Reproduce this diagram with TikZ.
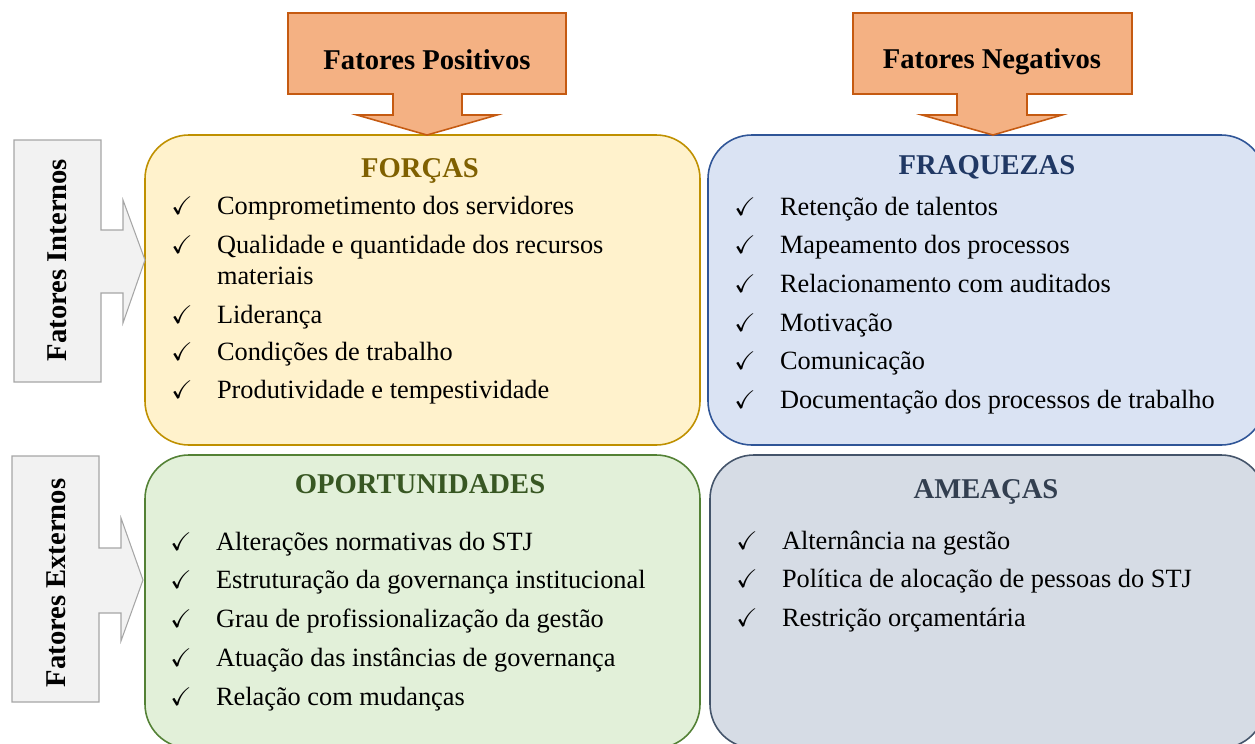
\documentclass[tikz,border=0pt]{standalone}
\usepackage{fontspec}
\setmainfont{Liberation Serif}
\usepackage{amssymb}
\usetikzlibrary{positioning, fit}

\definecolor{laranja}{HTML}{F4B183}
\definecolor{laranjaB}{HTML}{C55A11}
\definecolor{cinza}{HTML}{F2F2F2}
\definecolor{cinzaB}{HTML}{A6A6A6}
\definecolor{amarelo}{HTML}{FFF2CC}
\definecolor{amareloB}{HTML}{BF9000}
\definecolor{amareloT}{HTML}{7F6000}
\definecolor{azul}{HTML}{DAE3F3}
\definecolor{azulB}{HTML}{2F5597}
\definecolor{azulT}{HTML}{203864}
\definecolor{verde}{HTML}{E2F0D9}
\definecolor{verdeB}{HTML}{538135}
\definecolor{verdeT}{HTML}{385723}
\definecolor{ardosia}{HTML}{D6DCE5}
\definecolor{ardosiaB}{HTML}{44546A}
\definecolor{ardosiaT}{HTML}{333F50}

\newcommand{\ok}{\makebox[26pt][l]{\fontsize{14.5}{14.5}\selectfont$\checkmark$}}

\begin{document}
\begin{tikzpicture}[x=0.02cm, y=-0.02cm,
    quadro/.style={line width=0.9pt, rounded corners=25pt, inner sep=0pt},
    titulo/.style={font=\fontsize{16.3}{19}\selectfont\bfseries, inner sep=0pt, anchor=base},
    item/.style={font=\fontsize{15}{18.1}\selectfont, inner sep=0pt, anchor=base west},
    seta/.style={draw=laranjaB, fill=laranja, line width=0.9pt},
    setacinza/.style={draw=cinzaB, fill=cinza, line width=0.6pt}]
    \clip (0,0) rectangle (1255,744);

    % quadrantes
    \node (forcas) [quadro, draw=amareloB, fill=amarelo, fit={(145,135) (700,445)}] {};
    \node (fraquezas) [quadro, draw=azulB, fill=azul, fit={(708,135) (1265,445)}] {};
    \node (oport) [quadro, draw=verdeB, fill=verde, fit={(145,455) (700,748)}] {};
    \node (ameacas) [quadro, draw=ardosiaB, fill=ardosia, fit={(710,455) (1265,748)}] {};

    % setas de cima
    \draw[seta] (288,13) -- (566,13) -- (566,94) -- (462,94) -- (462,115) -- (497,115)
        -- (427,135) -- (357,115) -- (393,115) -- (393,94) -- (288,94) -- cycle;
    \draw[seta] (853,13) -- (1132,13) -- (1132,94) -- (1027,94) -- (1027,115) -- (1062,115)
        -- (993,135) -- (922,115) -- (957,115) -- (957,94) -- (853,94) -- cycle;
    \node (positivos) [titulo] at (427,69) {Fatores Positivos};
    \node (negativos) [titulo] at (992,68) {Fatores Negativos};

    % setas da esquerda
    \draw[setacinza] (14,140) -- (101,140) -- (101,230) -- (123,230) -- (123,200) -- (145,260)
        -- (123,323) -- (123,293) -- (101,293) -- (101,382) -- (14,382) -- cycle;
    \draw[setacinza] (12,456) -- (99,456) -- (99,548) -- (121,548) -- (121,518) -- (143,580)
        -- (121,641) -- (121,613) -- (99,613) -- (99,702) -- (12,702) -- cycle;
    \node (internos) [titulo, anchor=center, rotate=90] at (57,260) {Fatores Internos};
    \node (externos) [titulo, anchor=center, rotate=90] at (56,583) {Fatores Externos};

    % FORCAS
    \node (tforcas) [titulo, text=amareloT] at (420,177) {FORÇAS};
    \node (f1) [item] at (171,214) {\ok Comprometimento dos servidores};
    \node (f2) [item] at (171,253) {\ok\parbox[t]{300pt}{Qualidade e quantidade dos recursos\\materiais}};
    \node (f3) [item] at (171,323) {\ok Liderança};
    \node (f4) [item] at (171,360) {\ok Condições de trabalho};
    \node (f5) [item] at (171,398) {\ok Produtividade e tempestividade};

    % FRAQUEZAS
    \node (tfraquezas) [titulo, text=azulT] at (987,174) {FRAQUEZAS};
    \node (q1) [item] at (734,215) {\ok Retenção de talentos};
    \node (q2) [item] at (734,253) {\ok Mapeamento dos processos};
    \node (q3) [item] at (734,292) {\ok Relacionamento com auditados};
    \node (q4) [item] at (734,331) {\ok Motivação};
    \node (q5) [item] at (734,369) {\ok Comunicação};
    \node (q6) [item] at (734,408) {\ok Documentação dos processos de trabalho};

    % OPORTUNIDADES
    \node (toport) [titulo, text=verdeT] at (420,493) {OPORTUNIDADES};
    \node (o1) [item] at (170,550) {\ok Alterações normativas do STJ};
    \node (o2) [item] at (170,588) {\ok Estruturação da governança institucional};
    \node (o3) [item] at (170,627) {\ok Grau de profissionalização da gestão};
    \node (o4) [item] at (170,666) {\ok Atuação das instâncias de governança};
    \node (o5) [item] at (170,705) {\ok Relação com mudanças};

    % AMEACAS
    \node (tameacas) [titulo, text=ardosiaT] at (986,498) {AMEAÇAS};
    \node (a1) [item] at (736,549) {\ok Alternância na gestão};
    \node (a2) [item] at (736,587) {\ok Política de alocação de pessoas do STJ};
    \node (a3) [item] at (736,626) {\ok Restrição orçamentária};
\end{tikzpicture}
\end{document}
